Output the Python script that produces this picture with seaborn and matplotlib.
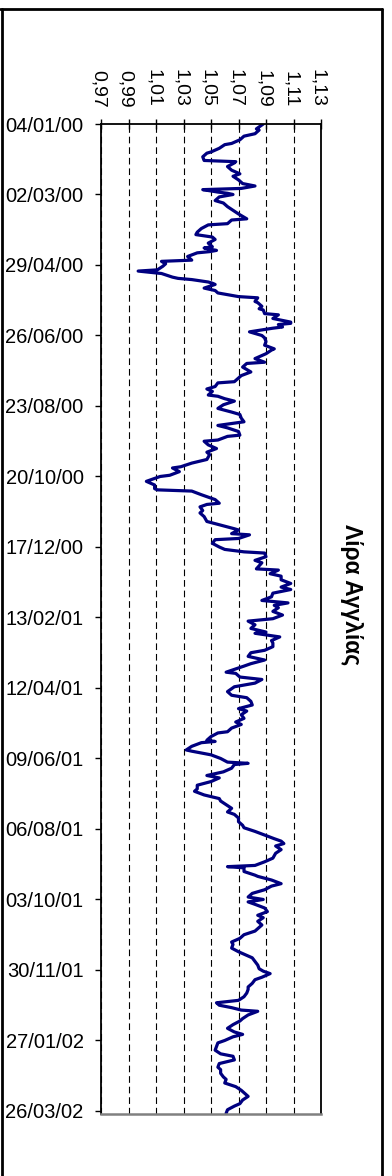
import numpy as np
import pandas as pd
import matplotlib
matplotlib.use("Agg")
import matplotlib.pyplot as plt
from matplotlib.lines import Line2D
from matplotlib.ticker import FuncFormatter
from matplotlib.transforms import ScaledTranslation
import seaborn as sns

# ---------------- data ----------------
start_date = "2000-01-04"
title = "Λίρα Αγγλίας"

# day offsets from start_date and GBP rate values
days_a = [0, 4, 5, 8, 10, 13, 16, 17, 20, 21, 23, 24, 27, 30, 31, 32, 35, 38, 41, 43,
          46, 49, 51, 53, 54, 56, 57, 58, 60, 63, 65, 68, 71, 74, 76, 78, 79, 82, 83, 86,
          89, 91, 93, 95, 98, 101, 102, 104, 105, 106, 109, 112, 113, 115, 117, 120, 121, 123, 126, 127,
          128, 130, 131, 132, 135, 137, 139, 141, 142, 143, 146, 147, 150, 152]
rates_a = [1.088, 1.083, 1.085, 1.082, 1.074, 1.071, 1.065, 1.060, 1.056, 1.054,
           1.050, 1.047, 1.044, 1.045, 1.068, 1.067, 1.062, 1.065, 1.071, 1.066,
           1.070, 1.073, 1.082, 1.072, 1.044, 1.055, 1.062, 1.066, 1.056, 1.053,
           1.059, 1.062, 1.066, 1.070, 1.073, 1.076, 1.065, 1.062, 1.048, 1.043,
           1.040, 1.039, 1.051, 1.053, 1.048, 1.051, 1.045, 1.054, 1.049, 1.040,
           1.033, 1.036, 1.014, 1.017, 1.015, 1.011, 0.997, 1.014, 1.022, 1.026,
           1.036, 1.048, 1.051, 1.053, 1.045, 1.053, 1.055, 1.065, 1.070, 1.084,
           1.082, 1.084, 1.087, 1.085]

days_b = [153, 156, 157, 160, 163, 164, 165, 167, 168, 171, 174, 176, 179, 182, 185, 186, 189, 193, 196, 197,
          200, 204, 207, 209, 212, 213, 216, 218, 220, 223, 224, 226, 228, 231, 234, 237, 239, 242, 245, 248,
          250, 253, 256, 257, 260, 261, 264, 267, 270, 272, 276, 279, 282, 283, 286, 289, 290, 294, 297, 300,
          301]
rates_b = [1.088, 1.089, 1.099, 1.095, 1.108, 1.108, 1.099, 1.102, 1.095, 1.078,
           1.087, 1.089, 1.090, 1.089, 1.096, 1.094, 1.090, 1.082, 1.089, 1.076,
           1.073, 1.079, 1.072, 1.070, 1.067, 1.055, 1.053, 1.047, 1.051, 1.048,
           1.055, 1.060, 1.067, 1.059, 1.055, 1.065, 1.071, 1.072, 1.074, 1.055,
           1.062, 1.070, 1.071, 1.062, 1.055, 1.045, 1.048, 1.054, 1.047, 1.049,
           1.047, 1.036, 1.028, 1.022, 1.027, 1.020, 1.013, 1.003, 1.009, 1.009,
           1.011]

days_c = [302, 305, 307, 309, 312, 313, 315, 318, 320, 323, 327, 330, 333, 334, 337, 338, 341, 342, 345, 348,
          350, 352, 353, 356, 359, 361, 366, 367, 370, 372, 375, 378, 381, 383, 386, 389, 392, 394, 396, 398,
          401, 404, 407, 409, 412, 415, 418, 419, 422, 425, 427, 430, 433, 435, 438, 441, 444, 446, 451, 452,
          455, 457, 460, 463]
rates_c = [1.036, 1.043, 1.048, 1.053, 1.056, 1.047, 1.042, 1.044, 1.042, 1.045,
           1.047, 1.057, 1.067, 1.070, 1.065, 1.078, 1.070, 1.053, 1.051, 1.056,
           1.060, 1.074, 1.089, 1.090, 1.082, 1.087, 1.083, 1.099, 1.093, 1.101,
           1.101, 1.108, 1.101, 1.108, 1.095, 1.094, 1.087, 1.106, 1.096, 1.099,
           1.095, 1.102, 1.095, 1.077, 1.082, 1.079, 1.090, 1.082, 1.100, 1.094,
           1.095, 1.095, 1.089, 1.079, 1.077, 1.089, 1.079, 1.074, 1.061, 1.068,
           1.071, 1.087, 1.082, 1.067]

days_d = [467, 470, 472, 475, 478, 481, 483, 486, 489, 492, 494, 497, 500, 501, 504, 507, 508, 509, 512, 515,
          516, 519, 522, 525, 526, 527, 530, 533, 536, 538, 541, 544, 547, 549, 552, 555, 557, 560, 563, 566,
          568, 571, 574, 577, 579, 582, 585, 588, 590, 592, 594, 597, 600, 604, 607, 610, 611, 612, 615, 618]
rates_d = [1.062, 1.065, 1.076, 1.079, 1.080, 1.070, 1.076, 1.072, 1.074, 1.068,
           1.072, 1.065, 1.062, 1.055, 1.050, 1.047, 1.053, 1.043, 1.036, 1.032,
           1.036, 1.050, 1.057, 1.062, 1.077, 1.067, 1.065, 1.059, 1.047, 1.056,
           1.050, 1.040, 1.040, 1.038, 1.045, 1.056, 1.057, 1.061, 1.065, 1.062,
           1.067, 1.070, 1.070, 1.073, 1.074, 1.082, 1.089, 1.096, 1.101, 1.103,
           1.097, 1.101, 1.097, 1.095, 1.089, 1.082, 1.062, 1.074, 1.074, 1.082]

days_e = [619, 622, 625, 627, 630, 633, 636, 638, 640, 642, 645, 648, 651, 653, 656, 659, 662, 664, 667, 670,
          673, 675, 678, 681, 684, 686, 689, 692, 695, 697, 699, 702, 704, 707, 710, 712, 715, 718, 721, 723,
          725, 727, 729, 730, 733, 736, 738, 741, 744, 747, 749, 751, 754, 756, 759, 762, 765, 767, 770, 773,
          776, 778, 781, 784, 786, 789, 792, 795, 797, 800, 803, 806, 808, 811, 814]
rates_e = [1.084, 1.094, 1.101, 1.094, 1.089, 1.080, 1.077, 1.088, 1.077, 1.082,
           1.089, 1.091, 1.084, 1.088, 1.084, 1.087, 1.084, 1.082, 1.074, 1.071,
           1.065, 1.066, 1.065, 1.070, 1.076, 1.080, 1.082, 1.084, 1.085, 1.088,
           1.093, 1.087, 1.082, 1.080, 1.077, 1.077, 1.076, 1.074, 1.070, 1.054,
           1.056, 1.065, 1.072, 1.084, 1.077, 1.073, 1.071, 1.066, 1.062, 1.067,
           1.073, 1.066, 1.060, 1.055, 1.054, 1.053, 1.057, 1.066, 1.067, 1.056,
           1.055, 1.057, 1.057, 1.059, 1.061, 1.060, 1.068, 1.072, 1.074, 1.077,
           1.073, 1.071, 1.067, 1.062, 1.061]

value_ticks = [0.97, 0.99, 1.01, 1.03, 1.05, 1.07, 1.09, 1.11, 1.13]
date_tick_labels = ["04/01/00", "02/03/00", "29/04/00", "26/06/00", "23/08/00",
                    "20/10/00", "17/12/00", "13/02/01", "12/04/01", "09/06/01",
                    "06/08/01", "03/10/01", "30/11/01", "27/01/02", "26/03/02"]

# ---------------- build frame ----------------
days = days_a + days_b + days_c + days_d + days_e
rates = rates_a + rates_b + rates_c + rates_d + rates_e
start = pd.Timestamp(start_date)
df = pd.DataFrame({"date": start + pd.to_timedelta(days, unit="D"), "rate": rates})

# ---------------- style ----------------
sns.set_style("white")
plt.rcParams["font.family"] = ["Liberation Sans", "DejaVu Sans"]

W, H = 392, 1176
fig = plt.figure(figsize=(W / 100, H / 100), dpi=100)
ax = fig.add_axes([101 / W, 1 - 1114 / H, 220 / W, 990 / H])

sns.lineplot(data=df, x="rate", y="date", orient="y", sort=False, estimator=None,
             color="#000080", linewidth=2.3, ax=ax)

ax.set_xlim(value_ticks[0], value_ticks[-1])
ax.set_ylim(start + pd.Timedelta(days=814.5), start)

# value axis on top, rotated labels with decimal comma
ax.xaxis.tick_top()
ax.set_xticks(value_ticks)
ax.xaxis.set_major_formatter(FuncFormatter(lambda v, p: f"{v:.2f}".replace(".", ",")))
ax.tick_params(axis="x", top=True, bottom=False, direction="inout", length=7,
               width=1, labelsize=14, pad=8.5, labelrotation=-90, colors="black")
shift = ScaledTranslation(-3 / 100, 0, fig.dpi_scale_trans)
for lab in ax.xaxis.get_majorticklabels():
    lab.set_transform(lab.get_transform() + shift)

# date axis
tick_dates = pd.to_datetime(date_tick_labels, format="%d/%m/%y")
ax.set_yticks(tick_dates)
ax.set_yticklabels(date_tick_labels)
ax.tick_params(axis="y", left=True, direction="out", length=4.5, width=1,
               labelsize=14.5, pad=8, colors="black")

ax.set_xlabel("")
ax.set_ylabel("")

ax.grid(axis="x", color="black", linestyle=(0, (6, 3.5)), linewidth=0.8)
ax.grid(axis="y", visible=False)

for side in ["top", "left", "right"]:
    ax.spines[side].set_color("black")
    ax.spines[side].set_linewidth(1.3)
ax.spines["bottom"].set_color("#808080")
ax.spines["bottom"].set_linewidth(1.8)

# series title on the right, rotated
fig.text(352 / W, 1 - 595 / H, title, rotation=-90, fontsize=16.5,
         fontweight="bold", ha="center", va="center", color="black")

# outer chart border (open at the bottom)
fig.add_artist(Line2D([0, 382 / W], [1 - 8.5 / H, 1 - 8.5 / H], transform=fig.transFigure,
                      color="black", linewidth=2))
fig.add_artist(Line2D([1.5 / W, 1.5 / W], [0, 1 - 8.5 / H], transform=fig.transFigure,
                      color="black", linewidth=2))
fig.add_artist(Line2D([381.5 / W, 381.5 / W], [0, 1 - 8.5 / H], transform=fig.transFigure,
                      color="black", linewidth=2))

fig.savefig("out.png", dpi=100)
